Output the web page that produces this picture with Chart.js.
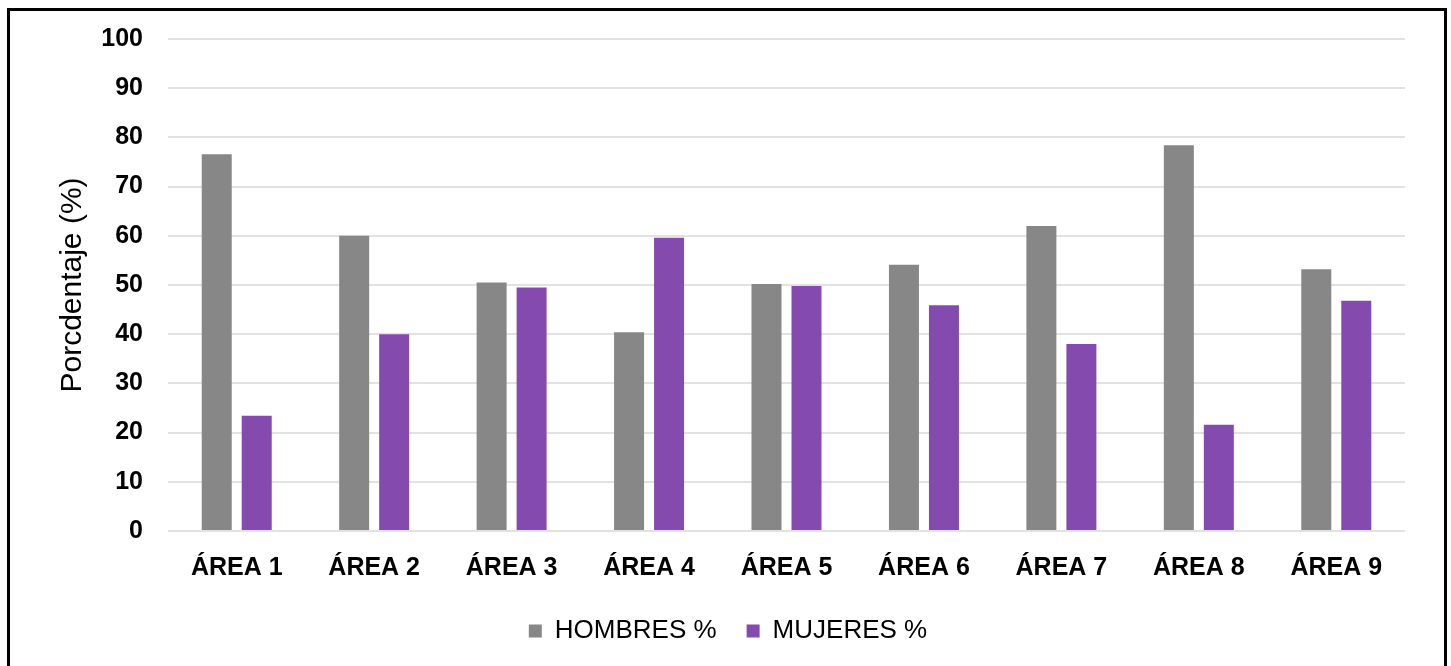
<!DOCTYPE html>
<html>
<head>
<meta charset="utf-8">
<script src="https://cdn.jsdelivr.net/npm/chart.js@4.4.0/dist/chart.umd.min.js"></script>
<style>
  html, body { margin: 0; padding: 0; background: #fff; overflow: hidden; }
  #frame {
    position: absolute; left: 7px; top: 8px;
    width: 1434px; height: 670px;
    border: 3px solid #000;
  }
  #chart { display: block; }
</style>
</head>
<body>
<div id="frame"><canvas id="chart" width="1434" height="670"></canvas></div>
<script>
const areas = ['ÁREA 1', 'ÁREA 2', 'ÁREA 3', 'ÁREA 4', 'ÁREA 5', 'ÁREA 6', 'ÁREA 7', 'ÁREA 8', 'ÁREA 9'];
const hombres = [76.6, 60.0, 50.5, 40.4, 50.2, 54.1, 62.0, 78.4, 53.2];
const mujeres = [23.4, 40.0, 49.5, 59.6, 49.8, 45.9, 38.0, 21.6, 46.8];
const yTicks = [0, 10, 20, 30, 40, 50, 60, 70, 80, 90, 100];

const fontFamily = '"Liberation Sans", Arial, Helvetica, sans-serif';

const ctx = document.getElementById('chart').getContext('2d');
new Chart(ctx, {
  type: 'bar',
  data: {
    labels: areas,
    datasets: [
      {
        label: 'HOMBRES %',
        data: hombres,
        backgroundColor: '#878787',
        categoryPercentage: 0.582,
        barPercentage: 0.75
      },
      {
        label: 'MUJERES %',
        data: mujeres,
        backgroundColor: '#854aad',
        categoryPercentage: 0.582,
        barPercentage: 0.75
      }
    ]
  },
  options: {
    responsive: false,
    animation: false,
    layout: {
      padding: { left: 41, right: 39, top: 28, bottom: 27 }
    },
    plugins: {
      tooltip: { enabled: false },
      legend: {
        position: 'bottom',
        labels: {
          color: '#000',
          font: { family: fontFamily, size: 26 },
          boxWidth: 13,
          boxHeight: 13,
          padding: 30
        }
      }
    },
    scales: {
      x: {
        grid: { display: false, drawTicks: false },
        border: { display: false },
        ticks: {
          color: '#000',
          font: { family: fontFamily, size: 25, weight: 'bold' },
          padding: 22,
          maxRotation: 0
        },
        afterFit: function (scale) { scale.height = 57; }
      },
      y: {
        min: 0,
        max: 100,
        afterBuildTicks: function (scale) {
          scale.ticks = yTicks.map(v => ({ value: v }));
        },
        // transparent tick marks keep the labels 25px off the plot
        grid: { color: '#e2e2e2', lineWidth: 2, drawTicks: true, tickLength: 25, tickColor: 'rgba(0,0,0,0)' },
        border: { display: false },
        ticks: {
          color: '#000',
          font: { family: fontFamily, size: 25, weight: 'bold' },
          padding: 0
        },
        title: {
          display: true,
          text: 'Porcdentaje (%)',
          color: '#000',
          font: { family: fontFamily, size: 30 }
        },
        afterFit: function (scale) { scale.width = 117; }
      }
    }
  }
});
</script>
</body>
</html>
